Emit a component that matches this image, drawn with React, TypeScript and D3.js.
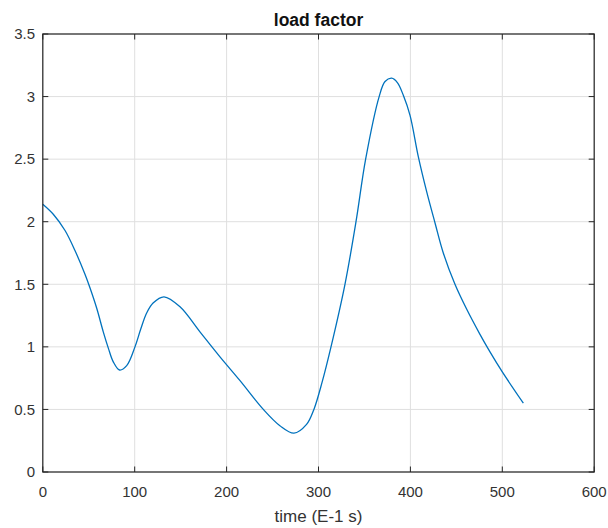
import React from "react";
import * as d3 from "d3";

const timeValues = [0, 11.4, 24.2, 35, 45.9, 51.4, 58.6, 65.8, 71.3, 76.7, 83.5, 91.3, 100.3, 106.5, 113, 120, 131.9, 149.3, 171, 192.8, 214.6, 240, 258, 273.3, 287, 295, 304, 313.6, 328.8, 340.8, 351.3, 366, 372.4, 379.6, 386, 392.3, 399.6, 408.6, 417.7, 426.8, 435.8, 448.5, 461.3, 475.7, 486.6, 500, 522.9];
const loadValues = [2.14, 2.06, 1.93, 1.77, 1.58, 1.47, 1.31, 1.12, 0.99, 0.88, 0.815, 0.85, 1.0, 1.14, 1.27, 1.35, 1.4, 1.32, 1.12, 0.92, 0.73, 0.5, 0.37, 0.31, 0.38, 0.5, 0.72, 1.0, 1.5, 2.0, 2.5, 3.0, 3.12, 3.147, 3.11, 3.01, 2.85, 2.52, 2.24, 1.99, 1.75, 1.5, 1.3, 1.1, 0.96, 0.8, 0.55];
const xTicks = [0, 100, 200, 300, 400, 500, 600];
const yTicks = [0, 0.5, 1, 1.5, 2, 2.5, 3, 3.5];

const W = 608, H = 528;
const left = 42.8, right = 594.2, top = 34, bottom = 472;
const FONT = "'Liberation Sans', Arial, Helvetica, sans-serif";

export default function App() {
  const x = d3.scaleLinear().domain([0, 600]).range([left, right]);
  const y = d3.scaleLinear().domain([0, 3.5]).range([bottom, top]);
  const pts: [number, number][] = timeValues.map((t, i) => [t, loadValues[i]]);
  const line = d3.line<[number, number]>()
    .x(d => x(d[0]))
    .y(d => y(d[1]))
    .curve(d3.curveCatmullRom.alpha(0.5));
  const tickLen = 5.5;
  const axisColor = "#262626";
  return (
    <svg width={W} height={H} style={{ position: "absolute", left: 0, top: 0, background: "#fff" }} fontFamily={FONT}>
      <rect x={0} y={0} width={W} height={H} fill="#fff" />
      {xTicks.map(t => (
        <line key={"gx" + t} x1={x(t)} x2={x(t)} y1={top} y2={bottom} stroke="#dfdfdf" strokeWidth={1} />
      ))}
      {yTicks.map(t => (
        <line key={"gy" + t} x1={left} x2={right} y1={y(t)} y2={y(t)} stroke="#dfdfdf" strokeWidth={1} />
      ))}
      <path d={line(pts) || ""} fill="none" stroke="#0072BD" strokeWidth={1.3} />
      {xTicks.map(t => (
        <g key={"tx" + t}>
          <line x1={x(t)} x2={x(t)} y1={bottom} y2={bottom - tickLen} stroke={axisColor} />
          <line x1={x(t)} x2={x(t)} y1={top} y2={top + tickLen} stroke={axisColor} />
          <text x={x(t)} y={497} textAnchor="middle" fontSize={15} fill="#333">{t}</text>
        </g>
      ))}
      {yTicks.map(t => (
        <g key={"ty" + t}>
          <line x1={left} x2={left + tickLen} y1={y(t)} y2={y(t)} stroke={axisColor} />
          <line x1={right} x2={right - tickLen} y1={y(t)} y2={y(t)} stroke={axisColor} />
          <text x={35} y={y(t)} dy="0.35em" textAnchor="end" fontSize={15} fill="#333">{t}</text>
        </g>
      ))}
      <rect x={left} y={top} width={right - left} height={bottom - top} fill="none" stroke={axisColor} strokeWidth={1.2} />
      <text x={(left + right) / 2} y={25.5} textAnchor="middle" fontSize={17.5} fontWeight="bold" fill="#111">load factor</text>
      <text x={(left + right) / 2} y={522} textAnchor="middle" fontSize={17} fill="#333">time (E-1 s)</text>
    </svg>
  );
}
